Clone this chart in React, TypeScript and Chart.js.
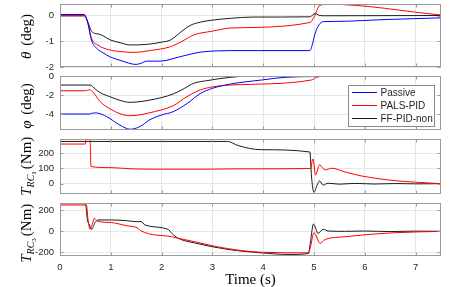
import React, { useEffect, useRef } from 'react';
import { Chart, registerables } from 'chart.js';
Chart.register(...registerables);

type Pt = [number, number];

// ---------- data ----------
const xTicks = [0, 1, 2, 3, 4, 5, 6, 7];
const thetaTicks = [-2, -1, 0];
const phiTicks = [-4, -2, 0];
const trc1Ticks = [0, 100, 200];
const trc3Ticks = [-200, 0, 200];
const legendLabels = ['Passive', 'PALS-PID', 'FF-PID-non'];

const thetaPassive: Pt[] = [[0, 0.05], [0.48, 0.05], [0.55, -0.3], [0.62, -0.95], [0.72, -1.27], [0.85, -1.45], [0.98, -1.6], [1.2, -1.75], [1.5, -1.9], [1.6, -1.85], [1.71, -1.77], [1.97, -1.77], [2.36, -1.6], [2.76, -1.42], [3.1, -1.37], [3.35, -1.36], [4.92, -1.36], [4.97, -1.1], [5.02, -0.7], [5.1, -0.35], [5.18, -0.23], [5.41, -0.22], [6.5, -0.14], [7.5, -0.08]];
const thetaPALS: Pt[] = [[0, 0], [0.48, 0], [0.55, -0.3], [0.62, -0.88], [0.75, -1.15], [0.95, -1.32], [1.2, -1.4], [1.44, -1.43], [1.8, -1.35], [2.17, -1.21], [2.4, -1.0], [2.63, -0.75], [3.0, -0.6], [3.35, -0.48], [4.92, -0.26], [5.0, -0.05], [5.11, 0.4], [5.28, 0.45], [7.5, 0.03]];
const thetaFF: Pt[] = [[0, 0], [0.48, 0], [0.55, -0.25], [0.62, -0.6], [0.79, -0.73], [1.0, -0.95], [1.2, -1.06], [1.38, -1.14], [1.7, -1.12], [2.0, -1.03], [2.17, -0.95], [2.4, -0.6], [2.56, -0.38], [2.76, -0.25], [3.0, -0.17], [3.35, -0.1], [3.8, -0.05], [4.92, -0.04], [4.98, 0.04], [5.02, 0.09], [5.1, 0.02], [5.18, 0.0], [7.5, 0.01]];

const phiPassive: Pt[] = [[0, -4.0], [0.58, -4.0], [0.66, -3.88], [0.74, -3.9], [0.92, -4.28], [1.18, -5.16], [1.38, -5.6], [1.57, -5.33], [1.77, -4.6], [2.0, -4.1], [2.23, -3.75], [2.5, -2.9], [2.76, -1.85], [3.0, -1.3], [3.35, -0.85], [3.97, -0.42], [4.43, -0.14], [5.0, -0.06], [7.5, -0.03]];
const phiPALS: Pt[] = [[0, -1.55], [0.5, -1.55], [0.58, -1.45], [0.65, -1.7], [0.79, -2.7], [1.0, -3.5], [1.2, -4.0], [1.38, -4.18], [1.77, -3.86], [2.23, -3.12], [2.5, -2.17], [2.76, -1.47], [3.0, -1.15], [3.35, -0.95], [4.95, -0.42], [5.05, -0.15], [5.18, -0.03], [7.5, -0.05]];
const phiFF: Pt[] = [[0, -0.95], [0.59, -0.95], [0.7, -1.4], [0.79, -1.75], [0.98, -2.17], [1.2, -2.6], [1.38, -2.77], [1.77, -2.53], [2.23, -1.89], [2.45, -1.3], [2.63, -0.77], [2.89, -0.49], [3.35, -0.14], [3.7, -0.02], [7.5, 0]];

const trc1PALS: Pt[] = [[0, 259], [0.5, 259], [0.51, 290], [0.59, 290], [0.61, 112], [1.0, 105], [1.41, 97], [2.0, 95], [2.85, 95], [3.5, 97], [4.93, 99], [4.98, 162], [5.03, 57], [5.11, 123], [5.22, 90], [5.35, 101], [5.6, 78], [5.93, 51], [6.59, 20], [7.0, 10], [7.5, 0]];
const trc1FF: Pt[] = [[0, 276], [3.3, 276], [3.5, 250], [3.96, 222], [4.92, 207], [4.95, 50], [5.0, -57], [5.06, -10], [5.11, 18], [5.18, -9], [5.28, 3], [5.5, -3], [5.8, 2], [6.2, -2], [6.6, 1], [7.0, -1], [7.5, 0]];

const trc3PALS: Pt[] = [[0, 252], [0.52, 252], [0.55, 120], [0.59, 19], [0.63, 60], [0.68, 125], [0.72, 102], [1.02, 83], [1.3, 55], [1.54, 29], [1.59, 6], [2.2, -52], [2.33, -67], [2.66, -100], [2.85, -122], [3.3, -165], [3.97, -200], [4.89, -206], [4.93, -150], [5.0, -13], [5.12, -115], [5.22, -77], [5.61, -52], [5.93, -36], [6.59, -13], [7.5, 0]];
const trc3FF: Pt[] = [[0, 265], [0.5, 265], [0.54, 109], [0.58, 61], [0.62, 19], [0.69, 83], [0.75, 109], [1.02, 109], [1.3, 102], [1.54, 92], [1.6, 95], [1.67, 61], [2.13, 19], [2.2, -19], [2.33, -67], [2.66, -112], [3.31, -173], [3.97, -206], [4.49, -221], [4.89, -212], [4.93, -100], [4.99, 70], [5.08, -19], [5.18, 19], [5.28, 3], [5.6, 0], [6.0, 3], [6.5, -2], [7.0, 2], [7.5, 0]];

// ---------- styles ----------
const W = 458, H = 287;
const PLOT_LEFT = 60, PLOT_RIGHT = 441;
const BLUE = '#0000ff', RED = '#ff0000', BLACK = '#1a1a1a';
const GRID = '#e6e6e6', AXIS = '#9a9a9a', TICK = '#262626';
const SANS = '"Liberation Sans", Arial, Helvetica, sans-serif';
const SERIF = '"Liberation Serif", "Times New Roman", serif';
const LBL = 15;

type Seg = { text: string; font: string; dy?: number; dx?: number };
const mathF = (s: number) => `italic ${s}px ${SERIF}`;
const romF = (s: number) => `${s}px ${SERIF}`;

interface Panel {
  top: number; bottom: number; min: number; max: number; ticks: number[];
  series: { data: Pt[]; color: string }[];
  label: Seg[]; labelDy: number; showX: boolean; legend?: boolean;
}

const panels: Panel[] = [
  { top: 4, bottom: 67, min: -2, max: 0.46, ticks: thetaTicks,
    series: [{ data: thetaPassive, color: BLUE }, { data: thetaPALS, color: RED }, { data: thetaFF, color: BLACK }],
    label: [{ text: 'θ', font: mathF(LBL) }, { text: ' (deg)', font: romF(LBL), dx: 2 }], labelDy: 1, showX: false },
  { top: 76, bottom: 130, min: -5.68, max: 0, ticks: phiTicks,
    series: [{ data: phiPassive, color: BLUE }, { data: phiPALS, color: RED }, { data: phiFF, color: BLACK }],
    label: [{ text: 'φ', font: mathF(LBL) }, { text: ' (deg)', font: romF(LBL), dx: 2 }], labelDy: 3, showX: false, legend: true },
  { top: 139, bottom: 193.5, min: -64, max: 292, ticks: trc1Ticks,
    series: [{ data: trc1PALS, color: RED }, { data: trc1FF, color: BLACK }],
    label: [{ text: 'T', font: mathF(LBL) }, { text: 'RC', font: mathF(10), dy: 3 }, { text: '1', font: romF(7), dy: 5 }, { text: '(Nm)', font: romF(LBL), dx: 2 }], labelDy: 0, showX: false },
  { top: 203, bottom: 255.5, min: -231, max: 271, ticks: trc3Ticks,
    series: [{ data: trc3PALS, color: RED }, { data: trc3FF, color: BLACK }],
    label: [{ text: 'T', font: mathF(LBL) }, { text: 'RC', font: mathF(10), dy: 3 }, { text: '3', font: romF(7), dy: 5 }, { text: '(Nm)', font: romF(LBL), dx: 2 }], labelDy: 4, showX: true },
];

function drawVLabel(ctx: CanvasRenderingContext2D, segs: Seg[], cx: number, cy: number) {
  ctx.save();
  ctx.translate(cx, cy);
  ctx.rotate(-Math.PI / 2);
  let total = 0;
  const widths = segs.map((s) => {
    ctx.font = s.font;
    const w = ctx.measureText(s.text).width + (s.dx || 0);
    total += w;
    return w;
  });
  let x = -total / 2;
  ctx.fillStyle = '#000';
  ctx.textBaseline = 'alphabetic';
  ctx.textAlign = 'left';
  segs.forEach((s, i) => {
    ctx.font = s.font;
    ctx.fillText(s.text, x + (s.dx || 0), s.dy || 0);
    x += widths[i];
  });
  ctx.restore();
}

function makePlugin(p: Panel) {
  return {
    id: 'frame',
    afterDraw(chart: any) {
      const ctx: CanvasRenderingContext2D = chart.ctx;
      const { left, right, top, bottom } = chart.chartArea;
      const L = Math.round(left) + 0.5, R = Math.round(right) - 0.5;
      const T = Math.round(top) + 0.5, B = Math.round(bottom) - 0.5;
      ctx.save();
      ctx.strokeStyle = AXIS;
      ctx.lineWidth = 1;
      ctx.strokeRect(L, T, R - L, B - T);
      ctx.beginPath();
      const ys = chart.scales.y;
      p.ticks.forEach((v) => {
        const y = Math.round(ys.getPixelForValue(v)) + 0.5;
        ctx.moveTo(L, y); ctx.lineTo(L + 3, y);
        ctx.moveTo(R, y); ctx.lineTo(R - 3, y);
      });
      const xs = chart.scales.x;
      xTicks.forEach((v) => {
        const x = Math.round(xs.getPixelForValue(v)) + 0.5;
        ctx.moveTo(x, T); ctx.lineTo(x, T + 3);
        ctx.moveTo(x, B); ctx.lineTo(x, B - 3);
      });
      ctx.stroke();
      ctx.restore();

      drawVLabel(ctx, p.label, 31, (top + bottom) / 2 + p.labelDy);

      if (p.showX) {
        ctx.save();
        ctx.fillStyle = '#000';
        ctx.font = romF(LBL);
        ctx.textAlign = 'center';
        ctx.textBaseline = 'alphabetic';
        ctx.fillText('Time (s)', (left + right) / 2, 284);
        ctx.restore();
      }

      if (p.legend) {
        ctx.save();
        const bx = 348.5, by = 85.5, bw = 86, bh = 41;
        ctx.fillStyle = '#ffffff';
        ctx.fillRect(bx, by, bw, bh);
        ctx.strokeStyle = '#8a8a8a';
        ctx.lineWidth = 1;
        ctx.strokeRect(bx, by, bw, bh);
        const cols = [BLUE, RED, BLACK];
        const rows = [92.5, 105.5, 118.5];
        ctx.font = `10px ${SANS}`;
        ctx.textBaseline = 'middle';
        ctx.textAlign = 'left';
        legendLabels.forEach((lab, i) => {
          ctx.strokeStyle = cols[i];
          ctx.beginPath();
          ctx.moveTo(352, rows[i]);
          ctx.lineTo(377, rows[i]);
          ctx.stroke();
          ctx.fillStyle = TICK;
          ctx.fillText(lab, 380.5, rows[i] + 0.5);
        });
        ctx.restore();
      }
    },
  };
}

function PanelChart({ p }: { p: Panel }) {
  const ref = useRef<HTMLCanvasElement | null>(null);
  useEffect(() => {
    if (!ref.current) return;
    const xAxisH = p.showX ? H - p.bottom : 0;
    const chart = new Chart(ref.current, {
      type: 'line',
      data: {
        datasets: p.series.map((s) => ({
          data: s.data.map(([x, y]) => ({ x, y })),
          borderColor: s.color,
          borderWidth: 1,
          pointRadius: 0,
          fill: false,
          cubicInterpolationMode: 'monotone' as const,
        })),
      },
      options: {
        animation: false,
        responsive: false,
        events: [],
        layout: { padding: { left: 0, right: W - PLOT_RIGHT, top: p.top, bottom: H - p.bottom - xAxisH } },
        plugins: { legend: { display: false }, tooltip: { enabled: false } },
        scales: {
          x: {
            type: 'linear', min: 0, max: 7.5, position: 'bottom',
            afterBuildTicks: (a: any) => { a.ticks = xTicks.map((v) => ({ value: v })); },
            afterFit: (a: any) => { a.height = xAxisH; a.paddingLeft = 0; a.paddingRight = 0; },
            grid: { color: GRID, drawTicks: false, lineWidth: 1 },
            border: { display: false },
            ticks: { display: p.showX, padding: 6, color: TICK, autoSkip: false, maxRotation: 0,
              font: { family: SANS, size: 9.5 }, callback: (v: any) => String(v) },
          },
          y: {
            type: 'linear', min: p.min, max: p.max, position: 'left',
            afterBuildTicks: (a: any) => { a.ticks = p.ticks.map((v) => ({ value: v })); },
            afterFit: (a: any) => { a.width = PLOT_LEFT; a.paddingTop = 0; a.paddingBottom = 0; },
            grid: { color: GRID, drawTicks: false, lineWidth: 1 },
            border: { display: false },
            ticks: { padding: 6, color: TICK, autoSkip: false,
              font: { family: SANS, size: 9.5 }, callback: (v: any) => String(v) },
          },
        },
      } as any,
      plugins: [makePlugin(p)],
    });
    return () => chart.destroy();
  }, [p]);
  return (
    <canvas ref={ref} width={W} height={H}
      style={{ position: 'absolute', left: 0, top: 0, width: W, height: H }} />
  );
}

export default function App() {
  return (
    <div style={{ position: 'fixed', left: 0, top: 0, width: W, height: H, background: '#fff' }}>
      {panels.map((p, i) => <PanelChart key={i} p={p} />)}
    </div>
  );
}
